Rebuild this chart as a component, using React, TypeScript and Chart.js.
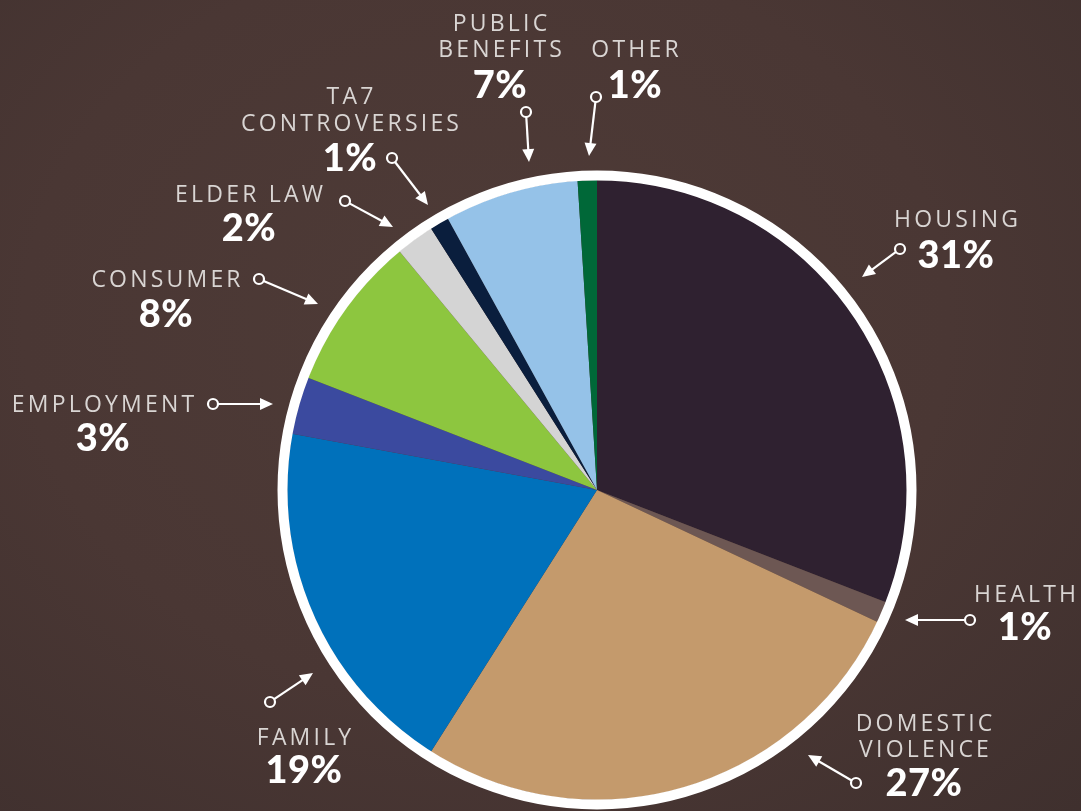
import React, { useEffect, useRef } from "react";
import { Chart, registerables } from "chart.js";

Chart.register(...registerables);

const categories = [
  "HOUSING",
  "HEALTH",
  "DOMESTIC VIOLENCE",
  "FAMILY",
  "EMPLOYMENT",
  "CONSUMER",
  "ELDER LAW",
  "TA7 CONTROVERSIES",
  "PUBLIC BENEFITS",
  "OTHER",
];

const shares = [30.9, 1.1, 27.0, 18.9, 3.0, 8.1, 2.0, 1.0, 7.0, 1.0];

const sliceColors = [
  "#2f2130",
  "#6d5753",
  "#c49a6c",
  "#0071bb",
  "#3b4a9f",
  "#8dc63f",
  "#d4d4d4",
  "#0a1e3d",
  "#95c2e8",
  "#006838",
];

// Callout layout (annotation placement only): label lines, baselines, arrow start/tip
type Callout = {
  lines: string[];
  cx: number;
  nameBaselines: number[];
  pctBaseline: number;
  from: [number, number];
  to: [number, number];
};

const callouts: Callout[] = [
  { lines: ["HOUSING"], cx: 956, nameBaselines: [227], pctBaseline: 268, from: [900, 249], to: [862, 277] },
  { lines: ["HEALTH"], cx: 1025, nameBaselines: [602], pctBaseline: 640, from: [970, 620], to: [905, 620] },
  { lines: ["DOMESTIC", "VIOLENCE"], cx: 924, nameBaselines: [731, 757], pctBaseline: 796, from: [856, 783], to: [808, 755] },
  { lines: ["FAMILY"], cx: 304, nameBaselines: [745], pctBaseline: 783, from: [270, 702], to: [313, 673] },
  { lines: ["EMPLOYMENT"], cx: 103, nameBaselines: [412], pctBaseline: 451, from: [213, 404], to: [273, 404] },
  { lines: ["CONSUMER"], cx: 166, nameBaselines: [287], pctBaseline: 327, from: [259, 279], to: [318, 304] },
  { lines: ["ELDER LAW"], cx: 249, nameBaselines: [202], pctBaseline: 241, from: [345, 201], to: [393, 227] },
  { lines: ["TA7", "CONTROVERSIES"], cx: 350, nameBaselines: [104, 131], pctBaseline: 171, from: [392, 158], to: [428, 205] },
  { lines: ["PUBLIC", "BENEFITS"], cx: 500, nameBaselines: [31, 57], pctBaseline: 98, from: [526, 112], to: [529, 162] },
  { lines: ["OTHER"], cx: 635, nameBaselines: [57], pctBaseline: 98, from: [596, 97], to: [589, 156] },
];

const ringPlugin = {
  id: "whiteRing",
  afterDatasetsDraw(chart: any) {
    const arc = chart.getDatasetMeta(0).data[0] as any;
    if (!arc) return;
    const ctx = chart.ctx;
    ctx.save();
    ctx.beginPath();
    ctx.arc(arc.x, arc.y, arc.outerRadius + 4.5, 0, Math.PI * 2);
    ctx.lineWidth = 10;
    ctx.strokeStyle = "#ffffff";
    ctx.stroke();
    ctx.restore();
  },
};

function drawArrow(ctx: CanvasRenderingContext2D, from: [number, number], to: [number, number]) {
  const [x0, y0] = from;
  const [x1, y1] = to;
  const ang = Math.atan2(y1 - y0, x1 - x0);
  const r = 5;
  const headLen = 13;
  const headW = 6;
  ctx.save();
  ctx.strokeStyle = "#ffffff";
  ctx.fillStyle = "#ffffff";
  ctx.lineWidth = 2.2;
  ctx.beginPath();
  ctx.arc(x0, y0, r, 0, Math.PI * 2);
  ctx.stroke();
  const sx = x0 + Math.cos(ang) * r;
  const sy = y0 + Math.sin(ang) * r;
  const ex = x1 - Math.cos(ang) * headLen * 0.8;
  const ey = y1 - Math.sin(ang) * headLen * 0.8;
  ctx.beginPath();
  ctx.moveTo(sx, sy);
  ctx.lineTo(ex, ey);
  ctx.stroke();
  const bx = x1 - Math.cos(ang) * headLen;
  const by = y1 - Math.sin(ang) * headLen;
  ctx.beginPath();
  ctx.moveTo(x1, y1);
  ctx.lineTo(bx + Math.cos(ang + Math.PI / 2) * headW, by + Math.sin(ang + Math.PI / 2) * headW);
  ctx.lineTo(bx + Math.cos(ang - Math.PI / 2) * headW, by + Math.sin(ang - Math.PI / 2) * headW);
  ctx.closePath();
  ctx.fill();
  ctx.restore();
}

const NAME_SPACING = 3.2;

const calloutPlugin = {
  id: "callouts",
  afterDraw(chart: any) {
    const ctx: CanvasRenderingContext2D = chart.ctx;
    const data = chart.data.datasets[0].data as number[];
    callouts.forEach((c, i) => {
      ctx.save();
      ctx.textAlign = "center";
      ctx.textBaseline = "alphabetic";
      ctx.fillStyle = "#d9d5d3";
      ctx.font = '500 23px "Open Sans"';
      (ctx as any).letterSpacing = NAME_SPACING + "px";
      c.lines.forEach((ln, j) => ctx.fillText(ln, c.cx + NAME_SPACING / 2, c.nameBaselines[j]));
      ctx.fillStyle = "#ffffff";
      ctx.font = "900 38px Lato";
      (ctx as any).letterSpacing = "0.5px";
      ctx.fillText(Math.round(data[i]) + "%", c.cx, c.pctBaseline);
      ctx.restore();
      drawArrow(ctx, c.from, c.to);
    });
  },
};

export default function App() {
  const canvasRef = useRef<HTMLCanvasElement | null>(null);

  useEffect(() => {
    document.body.style.margin = "0";
    const canvas = canvasRef.current;
    if (!canvas) return;
    const chart = new Chart(canvas, {
      type: "pie",
      data: {
        labels: categories,
        datasets: [
          {
            data: shares,
            backgroundColor: sliceColors,
            borderWidth: 0,
          },
        ],
      },
      options: {
        responsive: false,
        animation: false,
        layout: { padding: { left: 287, right: 174, top: 180, bottom: 11 } },
        plugins: {
          legend: { display: false },
          tooltip: { enabled: false },
        },
      },
      plugins: [ringPlugin, calloutPlugin],
    });
    return () => chart.destroy();
  }, []);

  return (
    <div
      style={{
        position: "absolute",
        left: 0,
        top: 0,
        width: 1081,
        height: 811,
        overflow: "hidden",
        background:
          "radial-gradient(ellipse at 45% 40%, #4e3b37 0%, #4a3734 55%, #3f302e 100%)",
      }}
    >
      <canvas ref={canvasRef} width={1081} height={811} style={{ display: "block" }} />
    </div>
  );
}
